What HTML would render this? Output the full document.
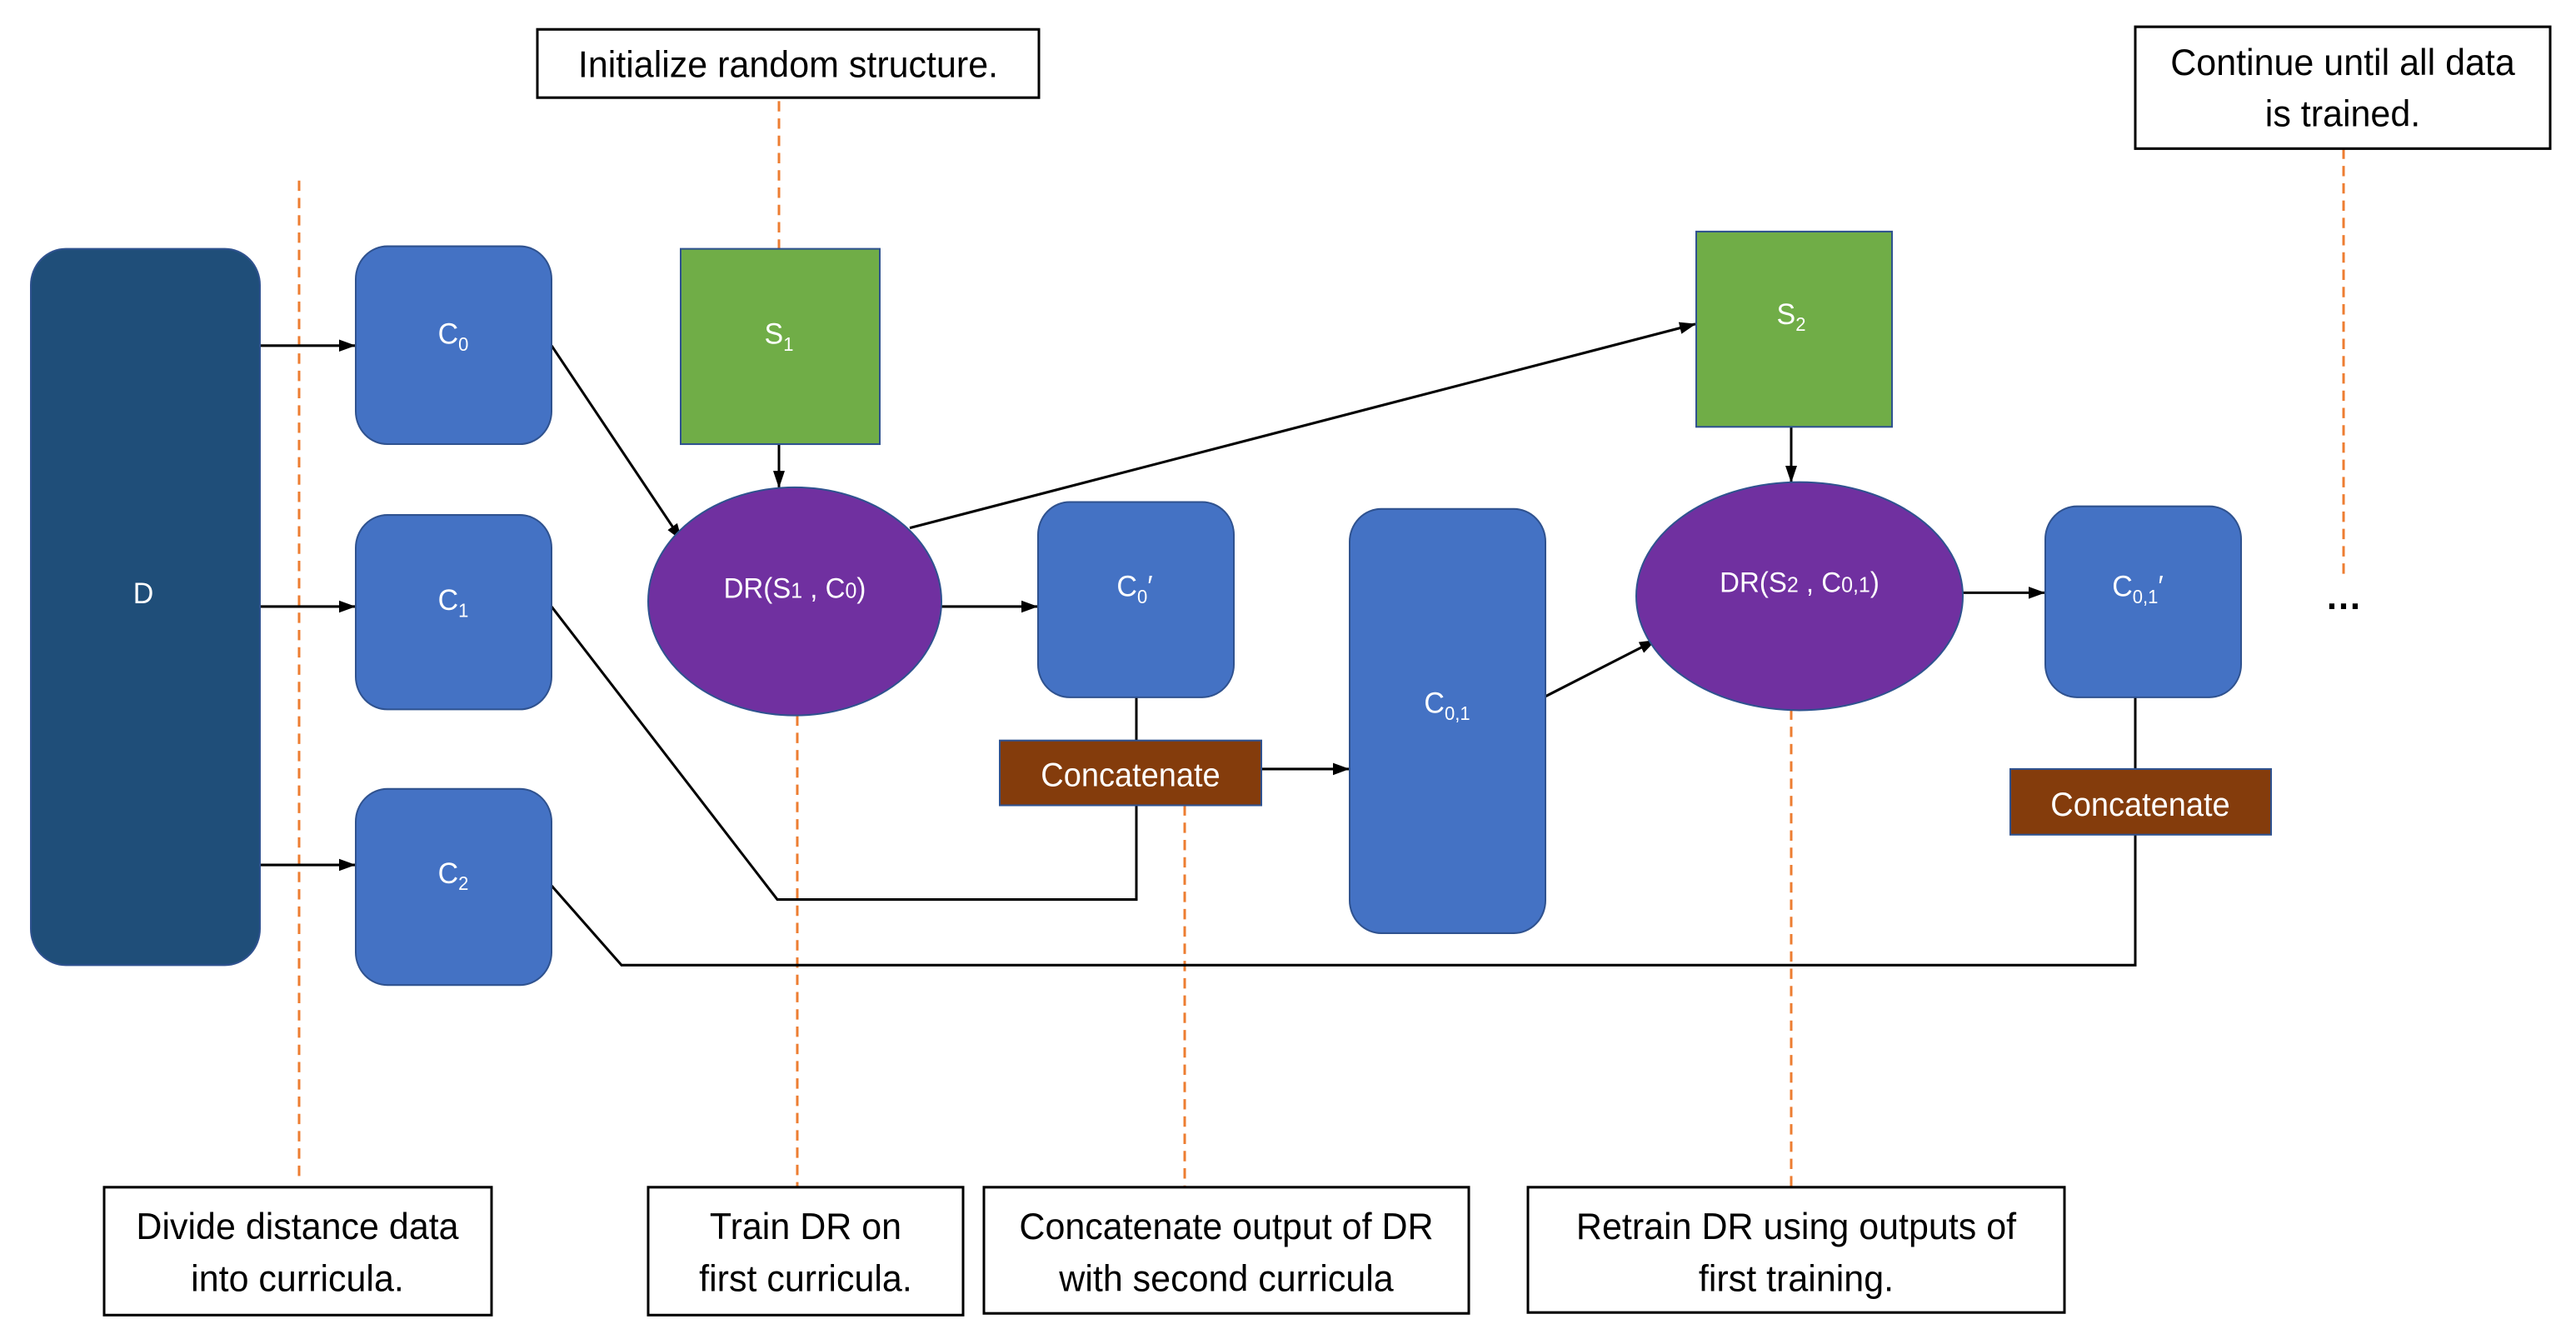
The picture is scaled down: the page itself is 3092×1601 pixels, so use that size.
<!DOCTYPE html>
<html><head><meta charset="utf-8"><style>
html,body{margin:0;padding:0;background:#fff;}
svg{display:block;}
text{font-family:"Liberation Sans",sans-serif;}
</style></head><body>
<svg width="3092" height="1601" viewBox="0 0 3092 1601" xmlns="http://www.w3.org/2000/svg">
<defs>
<marker id="a" markerWidth="20" markerHeight="20" refX="19" refY="10" orient="auto" markerUnits="userSpaceOnUse" viewBox="0 0 20 20">
<path d="M0,3 L20,10 L0,17 z" fill="#000"/>
</marker>
</defs>
<g transform="scale(1,1.037)">
<g stroke="#ED7D31" stroke-width="3" stroke-dasharray="12,8" fill="none">
<line x1="359" y1="209" x2="359" y2="1361"/>
<line x1="935" y1="117" x2="935" y2="288"/>
<line x1="957" y1="828" x2="957" y2="1374"/>
<line x1="1422" y1="932" x2="1422" y2="1374"/>
<line x1="2150" y1="821" x2="2150" y2="1374"/>
<line x1="2813" y1="172" x2="2813" y2="670"/>
</g>
<g stroke="#000" stroke-width="3" fill="none">
<line x1="312" y1="400" x2="426" y2="400" marker-end="url(#a)"/>
<line x1="312" y1="702" x2="426" y2="702" marker-end="url(#a)"/>
<line x1="312" y1="1001" x2="426" y2="1001" marker-end="url(#a)"/>
<line x1="662" y1="400" x2="818" y2="625" marker-end="url(#a)"/>
<polyline points="662,702 933,1041 1364,1041 1364,932"/>
<polyline points="662,1025 746,1117 2563,1117 2563,966"/>
<line x1="935" y1="514" x2="935" y2="564" marker-end="url(#a)"/>
<line x1="1130" y1="702" x2="1245" y2="702" marker-end="url(#a)"/>
<line x1="1364" y1="807" x2="1364" y2="857"/>
<line x1="1092" y1="611" x2="2035" y2="375" marker-end="url(#a)"/>
<line x1="1514" y1="890" x2="1619" y2="890" marker-end="url(#a)"/>
<line x1="1855" y1="806" x2="1987" y2="741" marker-end="url(#a)"/>
<line x1="2150" y1="494" x2="2150" y2="558" marker-end="url(#a)"/>
<line x1="2355" y1="686" x2="2454" y2="686" marker-end="url(#a)"/>
<line x1="2563" y1="807" x2="2563" y2="890"/>
</g>
<g stroke="#2F528F" stroke-width="2">
<rect x="37" y="288" width="275" height="829" rx="42" fill="#1F4E79"/>
<rect x="427" y="285" width="235" height="229" rx="38" fill="#4472C4"/>
<rect x="427" y="596" width="235" height="225" rx="38" fill="#4472C4"/>
<rect x="427" y="913" width="235" height="227" rx="38" fill="#4472C4"/>
<rect x="817" y="288" width="239" height="226" fill="#70AD47"/>
<ellipse cx="954" cy="696" rx="176" ry="132" fill="#7030A0"/>
<rect x="1246" y="581" width="235" height="226" rx="38" fill="#4472C4"/>
<rect x="1200" y="857" width="314" height="75" fill="#843C0C"/>
<rect x="2036" y="268" width="235" height="226" fill="#70AD47"/>
<rect x="1620" y="589" width="235" height="491" rx="38" fill="#4472C4"/>
<ellipse cx="2160" cy="690" rx="196" ry="132" fill="#7030A0"/>
<rect x="2455" y="586" width="235" height="221" rx="38" fill="#4472C4"/>
<rect x="2413" y="890" width="313" height="76" fill="#843C0C"/>
</g>
<g fill="#fff" font-size="34" text-anchor="middle">
<text x="172" y="698">D</text>
<text x="544" y="398">C<tspan font-size="22" dy="8">0</tspan></text>
<text x="544" y="706">C<tspan font-size="22" dy="8">1</tspan></text>
<text x="544" y="1022">C<tspan font-size="22" dy="8">2</tspan></text>
<text x="935" y="398">S<tspan font-size="22" dy="8">1</tspan></text>
<text x="954" y="692" font-size="33">DR(S<tspan font-size="25">1</tspan> , C<tspan font-size="25">0</tspan>)</text>
<text x="1362" y="690">C<tspan font-size="22" dy="8">0</tspan><tspan dy="-8">′</tspan></text>
<text x="1357" y="910" font-size="38">Concatenate</text>
<text x="2150" y="375">S<tspan font-size="22" dy="8">2</tspan></text>
<text x="1737" y="825">C<tspan font-size="22" dy="8">0,1</tspan></text>
<text x="2160" y="685" font-size="33">DR(S<tspan font-size="25">2</tspan> , C<tspan font-size="25">0,1</tspan>)</text>
<text x="2566" y="690">C<tspan font-size="22" dy="8">0,1</tspan><tspan dy="-8">′</tspan></text>
<text x="2569" y="944" font-size="38">Concatenate</text>
</g>
<text x="2813" y="705" font-size="44" font-weight="bold" text-anchor="middle" fill="#000">…</text>
<g fill="#fff" stroke="#000" stroke-width="3">
<rect x="645" y="34" width="602" height="79"/>
<rect x="2563" y="31" width="498" height="141"/>
<rect x="125" y="1374" width="465" height="148"/>
<rect x="778" y="1374" width="378" height="148"/>
<rect x="1181" y="1374" width="582" height="146"/>
<rect x="1834" y="1374" width="644" height="145"/>
</g>
<g fill="#000" font-size="43" text-anchor="middle">
<text x="946" y="89">Initialize random structure.</text>
<text x="2812" y="87">Continue until all data</text>
<text x="2812" y="146">is trained.</text>
<text x="357" y="1434">Divide distance data</text>
<text x="357" y="1494">into curricula.</text>
<text x="967" y="1434">Train DR on</text>
<text x="967" y="1494">first curricula.</text>
<text x="1472" y="1434">Concatenate output of DR</text>
<text x="1472" y="1494">with second curricula</text>
<text x="2156" y="1434">Retrain DR using outputs of</text>
<text x="2156" y="1494">first training.</text>
</g>
</g>
</svg>
</body></html>
